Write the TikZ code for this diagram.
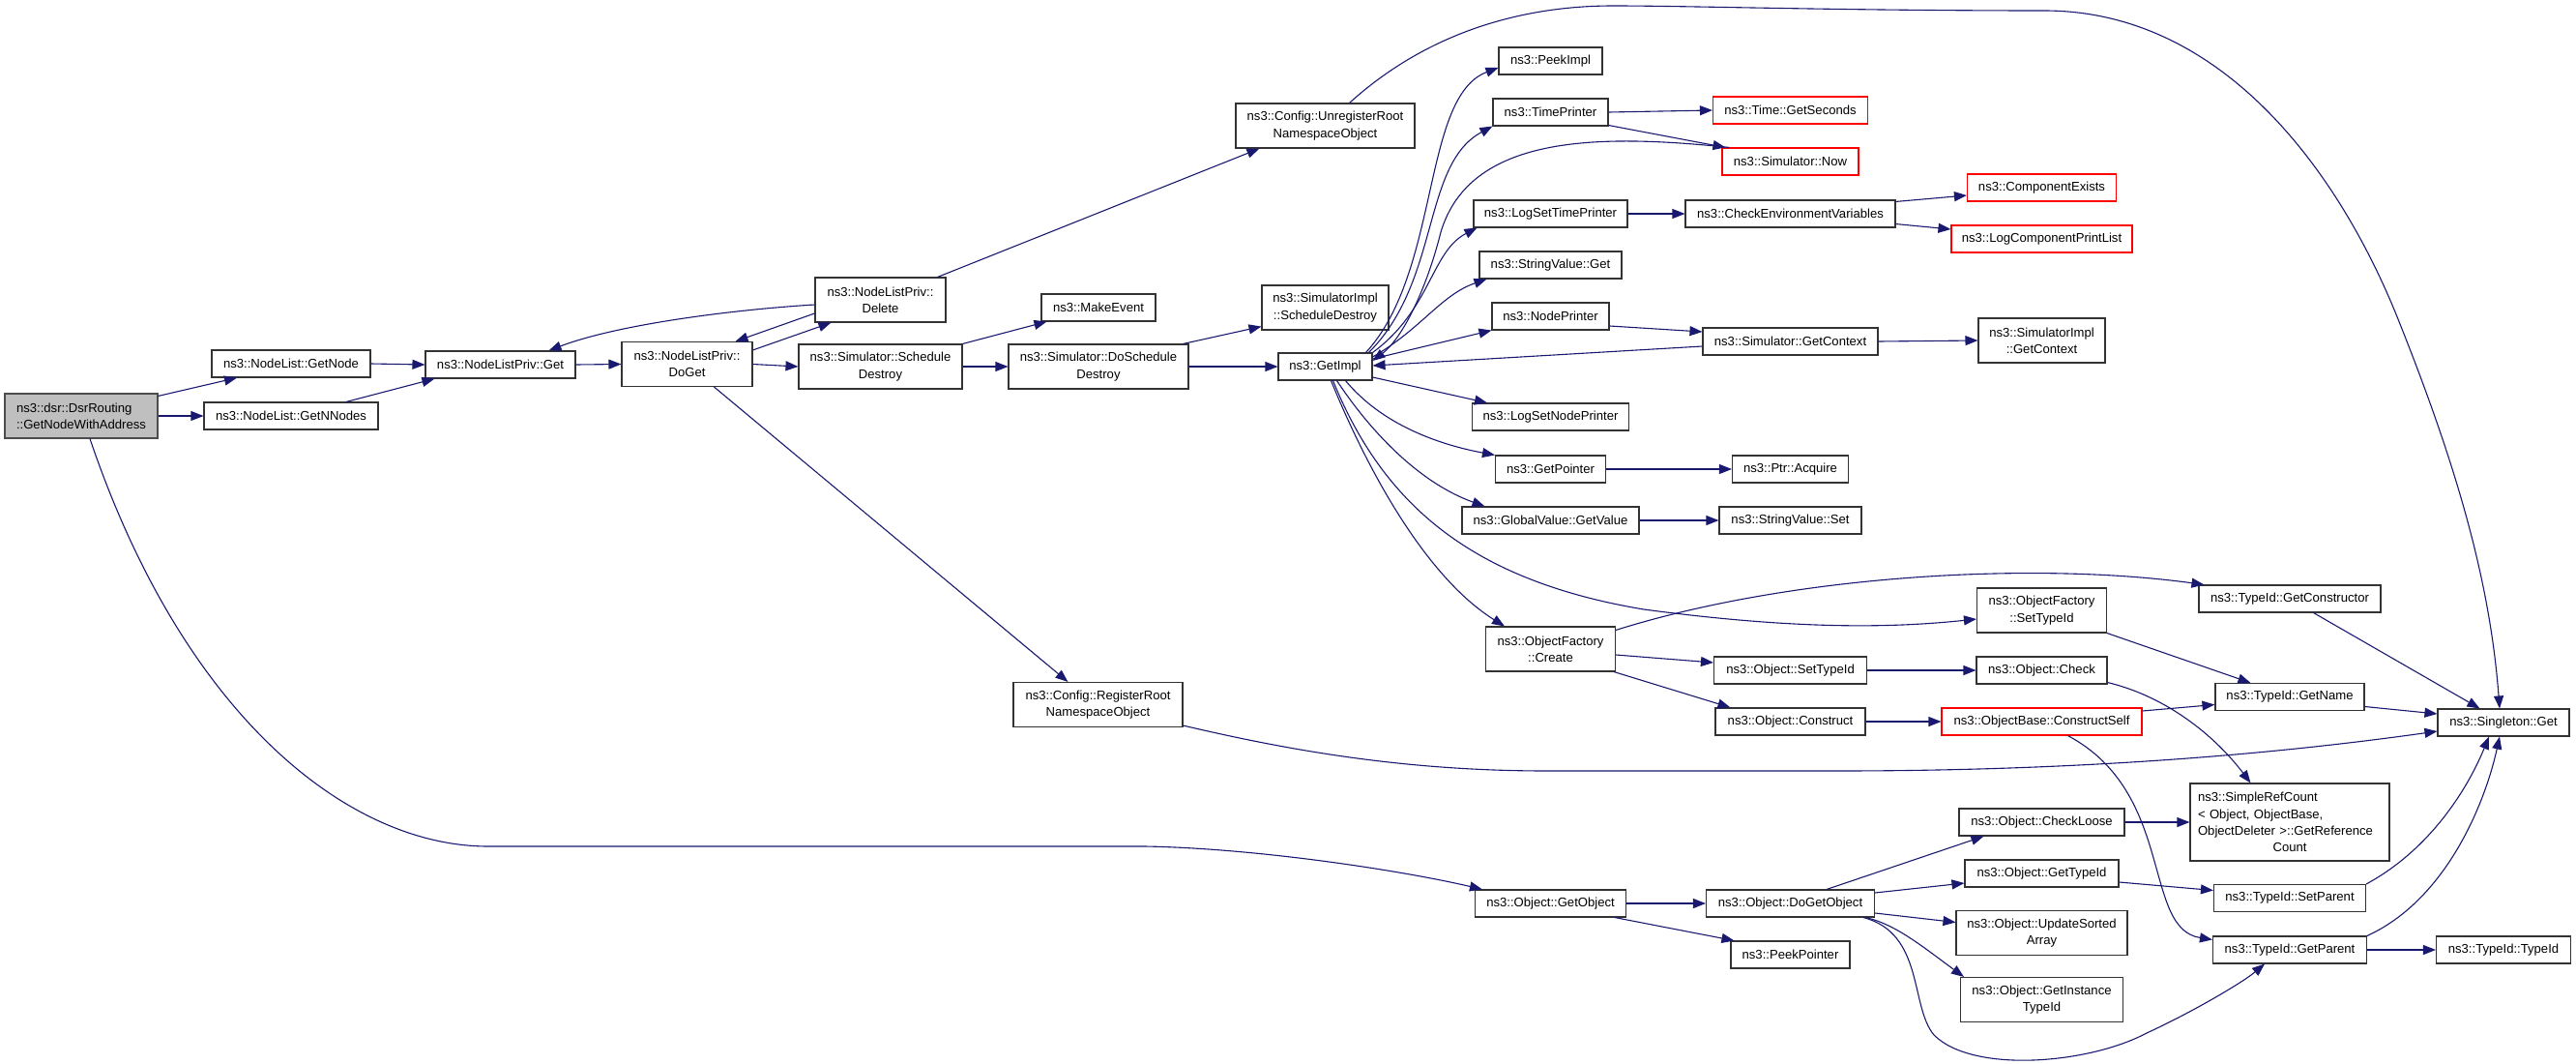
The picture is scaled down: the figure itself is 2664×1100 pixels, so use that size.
\documentclass[tikz,border=0pt]{standalone}
\usepackage{fontspec}
\newfontfamily\dxfont{Liberation Sans}
\usepackage{xcolor}
\usetikzlibrary{arrows.meta,calc}
\definecolor{callblue}{HTML}{191970}
\definecolor{boxgray}{HTML}{BFBFBF}
\definecolor{boxred}{HTML}{FF0000}

\begin{document}
\begin{tikzpicture}[x=1pt,y=-1pt,
    fn/.style={draw=black!80,line width=1.1pt,rectangle,inner xsep=2pt,inner ysep=0pt,
      minimum height=28pt,align=center,font=\dxfont\fontsize{13.1}{17.3}\selectfont},
    fn2/.style={fn,minimum height=46pt},
    missing/.style={draw=boxred},
    call/.style={draw=callblue,line width=1.1pt,-{Triangle[length=13pt,width=10pt]}}]
  \useasboundingbox (0,0) rectangle (2664,1100);

  \node[fn2,fill=boxgray,draw=black!70,align=left,minimum width=158pt] (root) at (84,430) {ns3::dsr::DsrRouting\\::GetNodeWithAddress};

  \node[fn,minimum width=164pt] (getnode) at (301,376) {ns3::NodeList::GetNode};
  \node[fn,minimum width=180pt] (getnnodes) at (301,430) {ns3::NodeList::GetNNodes};
  \node[fn,minimum width=155pt] (nlpget) at (517.5,377) {ns3::NodeListPriv::Get};
  \node[fn2,minimum width=135pt] (doget) at (710.5,376.5) {ns3::NodeListPriv::\\DoGet};
  \node[fn2,minimum width=135pt] (delete) at (910.5,310) {ns3::NodeListPriv::\\Delete};
  \node[fn2,minimum width=169pt] (simsched) at (910.5,379) {ns3::Simulator::Schedule\\Destroy};
  \node[fn2,minimum width=175pt] (regroot) at (1135.5,728.5) {ns3::Config::RegisterRoot\\NamespaceObject};
  \node[fn,minimum width=118pt] (makeevent) at (1136,318) {ns3::MakeEvent};
  \node[fn2,minimum width=186pt] (dosched) at (1136,379) {ns3::Simulator::DoSchedule\\Destroy};
  \node[fn2,minimum width=185pt] (unreg) at (1370.5,130) {ns3::Config::UnregisterRoot\\NamespaceObject};
  \node[fn2,minimum width=131pt] (implsched) at (1370.5,318) {ns3::SimulatorImpl\\::ScheduleDestroy};
  \node[fn,minimum width=97pt] (getimpl) at (1370.5,379) {ns3::GetImpl};

  \node[fn,minimum width=107pt] (peekimpl) at (1603.5,63) {ns3::PeekImpl};
  \node[fn,minimum width=119pt] (timeprinter) at (1603.5,116) {ns3::TimePrinter};
  \node[fn,minimum width=159pt] (logtime) at (1603.5,221) {ns3::LogSetTimePrinter};
  \node[fn,minimum width=147pt] (strget) at (1603.5,274) {ns3::StringValue::Get};
  \node[fn,minimum width=121pt] (nodeprinter) at (1603.5,327) {ns3::NodePrinter};
  \node[fn,minimum width=162pt] (lognode) at (1603.5,431) {ns3::LogSetNodePrinter};
  \node[fn,minimum width=114pt] (getpointer) at (1603.5,485) {ns3::GetPointer};
  \node[fn,minimum width=183pt] (getvalue) at (1603.5,538) {ns3::GlobalValue::GetValue};
  \node[fn2,minimum width=134pt] (create) at (1603.5,671) {ns3::ObjectFactory\\::Create};
  \node[fn,minimum width=156pt] (getobject) at (1603.5,934) {ns3::Object::GetObject};

  \node[fn,missing,minimum width=160pt] (getseconds) at (1851.5,114) {ns3::Time::GetSeconds};
  \node[fn,missing,minimum width=141pt] (now) at (1851.5,167) {ns3::Simulator::Now};
  \node[fn,minimum width=217pt] (checkenv) at (1851.5,221) {ns3::CheckEnvironmentVariables};
  \node[fn,minimum width=181pt] (getcontext) at (1851.5,353) {ns3::Simulator::GetContext};
  \node[fn,minimum width=120pt] (acquire) at (1851.5,485) {ns3::Ptr::Acquire};
  \node[fn,minimum width=147pt] (strset) at (1851.5,538) {ns3::StringValue::Set};
  \node[fn,minimum width=158pt] (objsettid) at (1851.5,693) {ns3::Object::SetTypeId};
  \node[fn,minimum width=155pt] (construct) at (1851.5,746) {ns3::Object::Construct};
  \node[fn,minimum width=174pt] (dogetobject) at (1851.5,934) {ns3::Object::DoGetObject};
  \node[fn,minimum width=123pt] (peekpointer) at (1851.5,987) {ns3::PeekPointer};

  \node[fn,missing,minimum width=154pt] (compexists) at (2111.5,194) {ns3::ComponentExists};
  \node[fn,missing,minimum width=187pt] (printlist) at (2111.5,247) {ns3::LogComponentPrintList};
  \node[fn2,minimum width=131pt] (implcontext) at (2111.5,352) {ns3::SimulatorImpl\\::GetContext};
  \node[fn2,minimum width=134pt] (ofsettid) at (2111.5,631) {ns3::ObjectFactory\\::SetTypeId};
  \node[fn,minimum width=135pt] (check) at (2111.5,693) {ns3::Object::Check};
  \node[fn,missing,minimum width=207pt] (constructself) at (2111.5,746) {ns3::ObjectBase::ConstructSelf};
  \node[fn,minimum width=171pt] (checkloose) at (2111.5,850) {ns3::Object::CheckLoose};
  \node[fn,minimum width=159pt] (gettid) at (2111.5,903) {ns3::Object::GetTypeId};
  \node[fn2,minimum width=177pt] (sorted) at (2111.5,964.5) {ns3::Object::UpdateSorted\\Array};
  \node[fn2,minimum width=168pt] (instancetid) at (2111.5,1033.5) {ns3::Object::GetInstance\\TypeId};

  \node[fn,minimum width=188pt] (getctor) at (2368,619) {ns3::TypeId::GetConstructor};
  \node[fn,minimum width=154pt] (getname) at (2368,720.5) {ns3::TypeId::GetName};
  \node[fn,minimum width=206pt,minimum height=80pt,text width=190pt,align=left] (refcount) at (2368,850)
    {ns3::SimpleRefCount\\< Object, ObjectBase,\\ObjectDeleter >::GetReference\\\makebox[190pt]{Count}};
  \node[fn,minimum width=157pt] (setparent) at (2368,928.5) {ns3::TypeId::SetParent};
  \node[fn,minimum width=159pt] (getparent) at (2368,982) {ns3::TypeId::GetParent};

  \node[fn,minimum width=136pt] (singleton) at (2589,747) {ns3::Singleton::Get};
  \node[fn,minimum width=139pt] (typeid) at (2589,982) {ns3::TypeId::TypeId};

  \draw[call] ($(root.north east)+(0,3)$) -- ($(getnode.south)+(-56,0)$);
  \draw[call] (root.east) -- (getnnodes.west);
  \draw[call] ($(root.south)+(9,0)$) .. controls (190,740) and (360,875) .. (505,875) -- (1184,875)
    .. controls (1300,877) and (1450,900) .. ($(getobject.north west)+(8,0)$);
  \draw[call] (getnode.east) -- (nlpget.west);
  \draw[call] ($(getnnodes.north)+(57,0)$) -- ($(nlpget.south west)+(10,0)$);
  \draw[call] (nlpget.east) -- (doget.west);
  \draw[call] ($(doget.north east)+(0,9)$) -- ($(delete.south west)+(17,0)$);
  \draw[call] ($(delete.west)+(0,14)$) -- ($(doget.north east)+(-18,0)$);
  \draw[call] ($(delete.west)+(0,5)$) .. controls (760,320) and (640,335) .. ($(nlpget.north)+(50,0)$);
  \draw[call] (doget.east) -- (simsched.west);
  \draw[call] ($(doget.south)+(28,0)$) -- ($(regroot.north west)+(57,0)$);
  \draw[call] ($(delete.north east)+(-9,0)$) -- ($(unreg.south west)+(25,0)$);
  \draw[call] (simsched.north east) -- ($(makeevent.south west)+(6,0)$);
  \draw[call] (simsched.east) -- (dosched.west);
  \draw[call] ($(dosched.north east)+(-6,0)$) -- ($(implsched.south west)+(0,-4)$);
  \draw[call] (dosched.east) -- (getimpl.west);
  \draw[call] ($(unreg.north)+(25,0)$) .. controls (1480,30) and (1580,6) .. (1668,6)
    .. controls (1750,6) and (1900,11) .. (2114,11) .. controls (2300,11) and (2420,180) .. (2480,330)
    .. controls (2540,480) and (2575,600) .. ($(singleton.north)+(-4,0)$);

  \draw[call] ($(getimpl.north east)+(-7,0)$) .. controls (1490,280) and (1470,100) .. ($(peekimpl.west)+(0,7)$);
  \draw[call] ($(getimpl.north east)+(-4,0)$) .. controls (1490,290) and (1470,170) .. (timeprinter.south west);
  \draw[call] ($(now.north west)+(8,0)$) .. controls (1650,138) and (1520,140) .. (1490,240)
    .. controls (1475,300) and (1450,350) .. ($(getimpl.east)+(0,-6)$);
  \draw[call] (getimpl.north east) .. controls (1480,320) and (1480,260) .. ($(logtime.south west)+(4,0)$);
  \draw[call] ($(getimpl.east)+(0,-10)$) .. controls (1470,340) and (1490,305) .. ($(strget.south west)+(8,0)$);
  \draw[call] ($(getimpl.east)+(0,-8)$) -- (nodeprinter.south west);
  \draw[call] ($(getcontext.west)+(0,5)$) -- ($(getimpl.east)+(0,-1)$);
  \draw[call] ($(getimpl.east)+(0,11)$) -- ($(lognode.north west)+(16,0)$);
  \draw[call] ($(getimpl.south)+(21,0)$) .. controls (1430,440) and (1490,460) .. (getpointer.north west);
  \draw[call] ($(getimpl.south)+(12,0)$) .. controls (1420,450) and (1470,500) .. ($(getvalue.north west)+(24,0)$);
  \draw[call] ($(getimpl.south)+(6,0)$) .. controls (1420,500) and (1480,600) .. ($(create.north west)+(20,0)$);
  \draw[call] ($(getimpl.south)+(8,0)$) .. controls (1430,520) and (1520,600) .. (1700,630)
    .. controls (1850,650) and (1950,650) .. ($(ofsettid.west)+(0,9)$);

  \draw[call] (timeprinter.east) -- (getseconds.west);
  \draw[call] ($(timeprinter.south east)+(0,-1)$) -- ($(now.north west)+(4,0)$);
  \draw[call] (logtime.east) -- (checkenv.west);
  \draw[call] ($(checkenv.north east)+(0,2)$) -- ($(compexists.west)+(0,8)$);
  \draw[call] ($(checkenv.south east)+(0,-4)$) -- ($(printlist.west)+(0,-10)$);
  \draw[call] ($(nodeprinter.east)+(0,10)$) -- ($(getcontext.west)+(0,-10)$);
  \draw[call] (getcontext.east) -- (implcontext.west);
  \draw[call] (getpointer.east) -- (acquire.west);
  \draw[call] (getvalue.east) -- (strset.west);

  \draw[call] ($(create.north east)+(0,4)$) .. controls (1850,595) and (2100,580) .. ($(getctor.north west)+(6,0)$);
  \draw[call] ($(create.east)+(0,6)$) -- ($(objsettid.west)+(0,-8)$);
  \draw[call] ($(create.south east)+(-2,0)$) -- ($(construct.north west)+(16,0)$);
  \draw[call] (ofsettid.south east) -- ($(getname.north west)+(37,0)$);
  \draw[call] ($(getctor.south east)+(-70,0)$) -- ($(singleton.north west)+(44,0)$);
  \draw[call] (objsettid.east) -- (check.west);
  \draw[call] ($(check.south east)+(0,-2)$) .. controls (2240,720) and (2290,760) .. ($(refcount.north west)+(63,0)$);
  \draw[call] (construct.east) -- (constructself.west);
  \draw[call] ($(constructself.east)+(0,-11)$) -- ($(getname.west)+(0,8)$);
  \draw[call] ($(constructself.south)+(27,0)$) .. controls (2250,820) and (2215,960) .. ($(getparent.north west)+(0,4)$);
  \draw[call] ($(getname.east)+(0,10)$) -- ($(singleton.west)+(0,-9)$);
  \draw[call] ($(regroot.south east)+(0,-2)$) .. controls (1330,775) and (1450,797) .. (1600,797) -- (1900,797)
    .. controls (2150,797) and (2350,780) .. ($(singleton.west)+(0,9)$);
  \draw[call] (checkloose.east) -- (refcount.west);
  \draw[call] ($(gettid.east)+(0,9)$) -- ($(setparent.west)+(0,-8)$);
  \draw[call] (setparent.north east) .. controls (2510,880) and (2550,820) .. ($(singleton.south)+(-15,0)$);
  \draw[call] (getparent.north east) .. controls (2530,930) and (2570,830) .. ($(singleton.south)+(-4,0)$);
  \draw[call] (getparent.east) -- (typeid.west);

  \draw[call] (getobject.east) -- (dogetobject.west);
  \draw[call] ($(getobject.south east)+(-12,0)$) -- ($(peekpointer.north west)+(4,0)$);
  \draw[call] ($(dogetobject.north east)+(-50,0)$) -- ($(checkloose.south west)+(26,0)$);
  \draw[call] ($(dogetobject.east)+(0,-11)$) -- ($(gettid.west)+(0,10)$);
  \draw[call] ($(dogetobject.east)+(0,10)$) -- ($(sorted.west)+(0,-11)$);
  \draw[call] ($(dogetobject.south east)+(-10,0)$) .. controls (1960,955) and (1990,980) .. ($(instancetid.north west)+(4,0)$);
  \draw[call] ($(dogetobject.south east)+(-12,0)$) .. controls (1990,965) and (1975,1040) .. (2000,1070)
    .. controls (2040,1110) and (2160,1100) .. (2220,1068) .. controls (2270,1045) and (2320,1015) .. ($(getparent.south)+(-26,0)$);
\end{tikzpicture}
\end{document}
